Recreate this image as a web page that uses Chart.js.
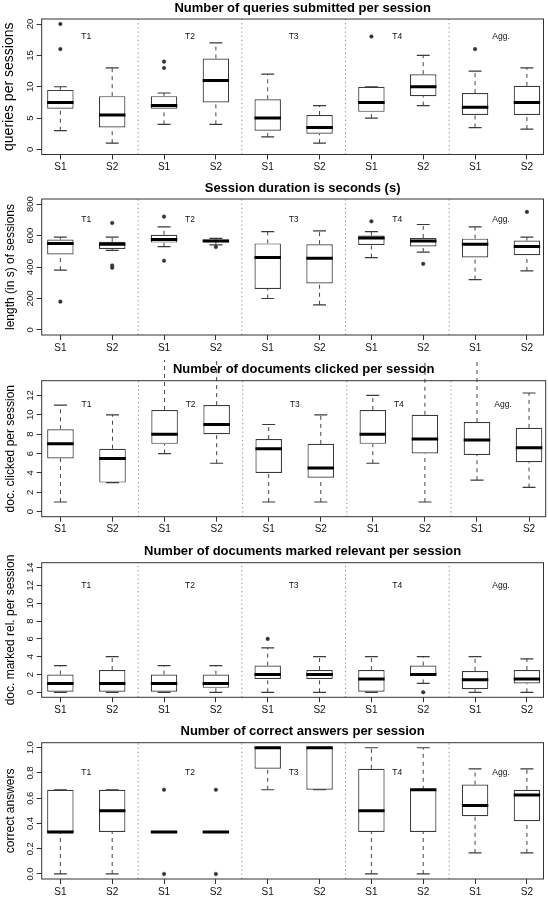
<!DOCTYPE html>
<html>
<head>
<meta charset="utf-8">
<script src="https://cdn.jsdelivr.net/npm/chart.js@4.4.1/dist/chart.umd.min.js"></script>
<style>
  html, body { margin: 0; padding: 0; background: #fff; }
  #wrap { position: relative; width: 548px; height: 898px; }
  #wrap canvas { position: absolute; left: 0; }
</style>
</head>
<body>
<div id="wrap"></div>
<script>
// x axis: two sessions for every task group
const SESSIONS = ['S1', 'S2', 'S1', 'S2', 'S1', 'S2', 'S1', 'S2', 'S1', 'S2'];
const GROUPS = ['T1', 'T2', 'T3', 'T4', 'Agg.'];

// queries submitted per session
const QUERIES_TICKS = [0, 5, 10, 15, 20];
const QUERIES_LO  = [3, 1, 4, 4, 2, 1, 5, 7, 3.5, 3.25];
const QUERIES_Q1  = [6.5, 3.5, 6.5, 7.5, 3, 2.5, 6, 8.5, 5.5, 5.5];
const QUERIES_MED = [7.5, 5.5, 7, 11, 5, 3.5, 7.5, 10, 6.75, 7.5];
const QUERIES_Q3  = [9.5, 8.5, 8.5, 14.5, 8, 5.5, 10, 12, 9, 10.15];
const QUERIES_HI  = [10, 13, 9, 17, 12, 7, 10, 15, 12.5, 13];
const QUERIES_OUT = [[1, 16], [1, 20], [3, 13], [3, 14], [7, 18], [9, 16]];

// session duration (s)
const DURATION_TICKS = [0, 200, 400, 600, 800];
const DURATION_LO  = [380, 505, 530, 540, 200, 160, 460, 495, 320, 375];
const DURATION_Q1  = [480, 515, 555, 558, 260, 295, 540, 530, 460, 475];
const DURATION_MED = [550, 545, 575, 565, 460, 455, 585, 565, 545, 530];
const DURATION_Q3  = [575, 560, 605, 574, 550, 545, 600, 585, 580, 568];
const DURATION_HI  = [590, 590, 655, 582, 625, 630, 625, 670, 655, 590];
const DURATION_OUT = [[1, 180], [2, 680], [2, 410], [2, 395], [3, 720], [3, 440], [4, 527], [7, 690], [8, 420], [10, 750]];

// documents clicked per session (some upper whiskers run past the plot top)
const CLICKED_TICKS = [0, 2, 4, 6, 8, 10, 12];
const CLICKED_LO  = [1, 3, 6, 5, 1, 1, 5, 1, 3.25, 2.5];
const CLICKED_Q1  = [5.5, 3, 7, 8, 4, 3.5, 7, 6, 5.85, 5.1];
const CLICKED_MED = [7, 5.5, 8, 9, 6.5, 4.5, 8, 7.5, 7.4, 6.6];
const CLICKED_Q3  = [8.5, 6.5, 10.5, 11, 7.5, 7, 10.5, 10, 9.25, 8.65];
const CLICKED_HI  = [11, 10, 17, 17, 9, 10, 12, 17, 17, 12.25];
const CLICKED_OUT = [];

// documents marked relevant per session
const RELEVANT_TICKS = [0, 2, 4, 6, 8, 10, 12, 14];
const RELEVANT_LO  = [0, 0, 0, 0, 0, 0, 0, 1, 0, 0];
const RELEVANT_Q1  = [0, 0, 0, 0.5, 1.5, 1.5, 0, 2, 0.35, 1];
const RELEVANT_MED = [1, 1, 1, 1, 2, 2, 1.5, 2, 1.4, 1.5];
const RELEVANT_Q3  = [2, 2.5, 2, 2, 3, 2.5, 2.5, 3, 2.4, 2.5];
const RELEVANT_HI  = [3, 4, 3, 3, 5, 4, 4, 4, 4, 3.75];
const RELEVANT_OUT = [[5, 6], [8, 0]];

// correct answers per session
const CORRECT_TICKS = [0, 0.2, 0.4, 0.6, 0.8, 1.0];
const CORRECT_LO  = [0, 0, 0.333, 0.333, 0.667, 0.667, 0, 0, 0.167, 0.167];
const CORRECT_Q1  = [0.333, 0.333, 0.333, 0.333, 0.833, 0.667, 0.333, 0.333, 0.458, 0.417];
const CORRECT_MED = [0.333, 0.5, 0.333, 0.333, 1, 1, 0.5, 0.667, 0.542, 0.625];
const CORRECT_Q3  = [0.667, 0.667, 0.333, 0.333, 1, 1, 0.833, 0.667, 0.708, 0.667];
const CORRECT_HI  = [0.667, 0.667, 0.333, 0.333, 1, 1, 1, 1, 0.833, 0.833];
const CORRECT_OUT = [[3, 0.667], [3, 0], [4, 0.667], [4, 0]];

const FONT = "'Liberation Sans', Arial, Helvetica, sans-serif";
const WIDTH = 548;
const AREA_LEFT = 41.7;
const AREA_RIGHT = 545.7;
const X_MIN = 0.64, X_MAX = 10.32;
const BOX_HALF = 0.255, CAP_HALF = 0.125;

const PANELS = [
  { title: 'Number of queries submitted per session', yTitle: 'queries per sessions', yTitleSize: 14, yTitlePad: 0.6,
    ticks: QUERIES_TICKS, fmt: v => String(v), min: -0.8, max: 20.8, labelY: 18,
    lo: QUERIES_LO, q1: QUERIES_Q1, med: QUERIES_MED, q3: QUERIES_Q3, hi: QUERIES_HI, out: QUERIES_OUT,
    top: 0, height: 180, areaTop: 19, areaBottom: 154.5 },
  { title: 'Session duration is seconds (s)', yTitle: 'length (in s) of sessions', yTitleSize: 12, yTitlePad: 3.3,
    ticks: DURATION_TICKS, fmt: v => String(v), min: -32, max: 832, labelY: 700,
    lo: DURATION_LO, q1: DURATION_Q1, med: DURATION_MED, q3: DURATION_Q3, hi: DURATION_HI, out: DURATION_OUT,
    top: 180, height: 180, areaTop: 19, areaBottom: 155 },
  { title: 'Number of documents clicked per session', yTitle: 'doc. clicked per session', yTitleSize: 12, yTitlePad: 3.3,
    ticks: CLICKED_TICKS, fmt: v => String(v), min: -0.52, max: 13.52, labelY: 11,
    lo: CLICKED_LO, q1: CLICKED_Q1, med: CLICKED_MED, q3: CLICKED_Q3, hi: CLICKED_HI, out: CLICKED_OUT,
    top: 360, height: 180, areaTop: 20.7, areaBottom: 156.7 },
  { title: 'Number of documents marked relevant per session', yTitle: 'doc. marked rel. per session', yTitleSize: 12, yTitlePad: 3.3,
    ticks: RELEVANT_TICKS, fmt: v => String(v), min: -0.56, max: 14.56, labelY: 12,
    lo: RELEVANT_LO, q1: RELEVANT_Q1, med: RELEVANT_MED, q3: RELEVANT_Q3, hi: RELEVANT_HI, out: RELEVANT_OUT,
    top: 540, height: 180, areaTop: 22.7, areaBottom: 157.3 },
  { title: 'Number of correct answers per session', yTitle: 'correct answers', yTitleSize: 12, yTitlePad: 3.3,
    ticks: CORRECT_TICKS, fmt: v => v.toFixed(1), min: -0.04, max: 1.04, labelY: 0.8,
    lo: CORRECT_LO, q1: CORRECT_Q1, med: CORRECT_MED, q3: CORRECT_Q3, hi: CORRECT_HI, out: CORRECT_OUT,
    top: 720, height: 178, areaTop: 22.7, areaBottom: 159 }
];

function buildDatasets(p) {
  const boxes = [], whiskers = [], caps = [], medians = [], seps = [];
  p.med.forEach((m, i) => {
    const x = i + 1;
    boxes.push({ x, y: [p.q1[i], p.q3[i]] });
    whiskers.push({ x, y: p.lo[i] }, { x, y: p.q1[i] }, { x, y: null },
                  { x, y: p.q3[i] }, { x, y: p.hi[i] }, { x, y: null });
    caps.push({ x: x - CAP_HALF, y: p.lo[i] }, { x: x + CAP_HALF, y: p.lo[i] }, { x, y: null },
              { x: x - CAP_HALF, y: p.hi[i] }, { x: x + CAP_HALF, y: p.hi[i] }, { x, y: null });
    medians.push({ x: x - BOX_HALF, y: m }, { x: x + BOX_HALF, y: m }, { x, y: null });
  });
  for (let g = 1; g < GROUPS.length; g++) {
    const x = 2 * g + 0.5;
    seps.push({ x, y: p.min }, { x, y: p.max }, { x, y: null });
  }
  const outliers = p.out.map(([i, v]) => ({ x: i, y: v }));
  const line = { type: 'line', pointRadius: 0, fill: false, tension: 0, spanGaps: false, borderCapStyle: 'butt' };
  return [
    { ...line, data: seps, borderColor: '#8a8a8a', borderWidth: 1, borderDash: [1.2, 3], order: 6 },
    { type: 'bar', data: boxes, backgroundColor: '#fff', borderColor: '#3a3a3a', borderWidth: 1.2,
      borderSkipped: false, barPercentage: 2 * BOX_HALF, categoryPercentage: 1, order: 5 },
    { ...line, data: whiskers, borderColor: '#444', borderWidth: 1, borderDash: [4, 4], clip: false, order: 4 },
    { ...line, data: caps, borderColor: '#3a3a3a', borderWidth: 1.2, order: 3 },
    { ...line, data: medians, borderColor: '#000', borderWidth: 3, order: 2 },
    { type: 'scatter', data: outliers, pointRadius: 1.8, pointBackgroundColor: '#333', pointBorderColor: '#333',
      pointBorderWidth: 0.5, order: 1 }
  ];
}

function makeDecor(p) {
  return {
    id: 'decor',
    afterDraw(chart) {
      const { ctx, chartArea: a, scales: { x, y } } = chart;
      ctx.save();
      // plot frame
      ctx.strokeStyle = '#333';
      ctx.lineWidth = 1;
      ctx.strokeRect(a.left, a.top, a.right - a.left, a.bottom - a.top);
      // y tick labels, rotated as in R
      ctx.fillStyle = '#111';
      ctx.font = `9.5px ${FONT}`;
      ctx.textAlign = 'center';
      ctx.textBaseline = 'middle';
      p.ticks.forEach(v => {
        ctx.save();
        ctx.translate(30, y.getPixelForValue(v));
        ctx.rotate(-Math.PI / 2);
        ctx.fillText(p.fmt(v), 0, 0);
        ctx.restore();
      });
      // task group labels
      ctx.font = `8.5px ${FONT}`;
      GROUPS.forEach((g, k) => ctx.fillText(g, x.getPixelForValue(2 * k + 1.5), y.getPixelForValue(p.labelY)));
      // panel title
      ctx.fillStyle = '#000';
      ctx.font = `bold 13px ${FONT}`;
      ctx.fillText(p.title, (a.left + a.right) / 2 + 10, a.top - 11);
      ctx.restore();
    }
  };
}

const wrap = document.getElementById('wrap');
PANELS.forEach(p => {
  const canvas = document.createElement('canvas');
  canvas.width = WIDTH;
  canvas.height = p.height;
  canvas.style.top = p.top + 'px';
  wrap.appendChild(canvas);

  new Chart(canvas, {
    type: 'bar',
    data: { datasets: buildDatasets(p) },
    options: {
      responsive: false,
      animation: false,
      events: [],
      layout: { padding: { top: p.areaTop, right: WIDTH - AREA_RIGHT, bottom: 0, left: 0 } },
      plugins: { legend: { display: false }, tooltip: { enabled: false }, title: { display: false } },
      scales: {
        x: {
          type: 'linear', min: X_MIN, max: X_MAX, offset: false,
          afterFit: s => { s.height = p.height - p.areaBottom; },
          afterBuildTicks: s => { s.ticks = SESSIONS.map((_, i) => ({ value: i + 1 })); },
          ticks: { callback: v => SESSIONS[Math.round(v) - 1], autoSkip: false, maxRotation: 0,
                   font: { family: FONT, size: 10 }, color: '#111', padding: 2 },
          grid: { offset: false, drawOnChartArea: false, drawTicks: true, tickLength: 5, color: '#333' },
          border: { display: false }
        },
        y: {
          type: 'linear', min: p.min, max: p.max,
          afterFit: s => { s.width = AREA_LEFT; },
          afterBuildTicks: s => { s.ticks = p.ticks.map(v => ({ value: v })); },
          ticks: { display: false },
          grid: { drawOnChartArea: false, drawTicks: true, tickLength: 5, color: '#333' },
          border: { display: false },
          title: { display: true, text: p.yTitle, color: '#000',
                   font: { family: FONT, size: p.yTitleSize }, padding: { top: p.yTitlePad, bottom: 0 } }
        }
      }
    },
    plugins: [makeDecor(p)]
  });
});
</script>
</body>
</html>
